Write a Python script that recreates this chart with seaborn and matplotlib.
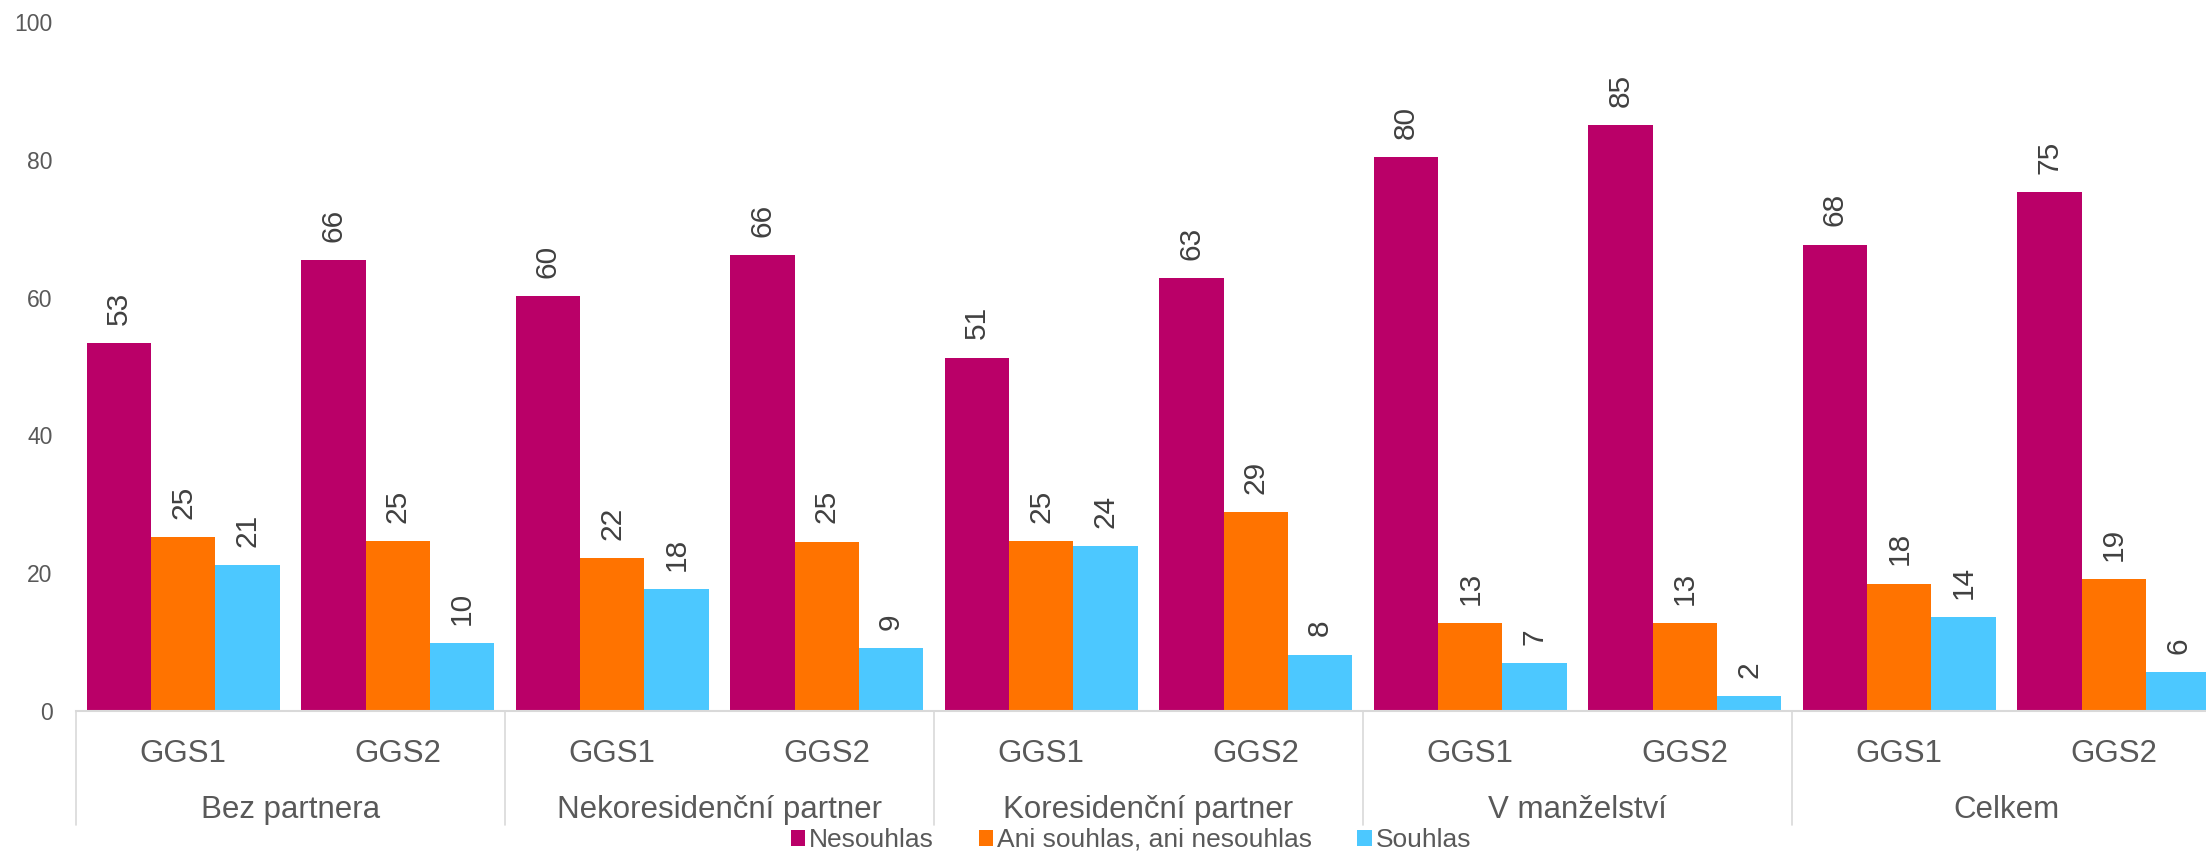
import matplotlib
matplotlib.use("Agg")
import matplotlib.pyplot as plt
from matplotlib.patches import Patch
import seaborn as sns
import pandas as pd
import numpy as np

categories = ["Bez partnera", "Nekoresidenční partner", "Koresidenční partner", "V manželství", "Celkem"]
surveys = ["GGS1", "GGS2"]
series = ["Nesouhlas", "Ani souhlas, ani nesouhlas", "Souhlas"]
nesouhlas = [53.4, 65.5, 60.2, 66.2, 51.3, 62.9, 80.4, 85.1, 67.7, 75.3]
ani = [25.3, 24.7, 22.2, 24.6, 24.7, 28.9, 12.8, 12.7, 18.5, 19.2]
souhlas = [21.2, 9.8, 17.7, 9.2, 23.9, 8.2, 6.9, 2.2, 13.7, 5.6]
colors = ["#BA0068", "#FF7300", "#4CC8FF"]

groups = [f"{c}|{s}" for c in categories for s in surveys]
rows = []
for name, vals in zip(series, [nesouhlas, ani, souhlas]):
    for g, v in zip(groups, vals):
        rows.append({"group": g, "series": name, "value": v})
df = pd.DataFrame(rows)

sns.set_style("white")
plt.rcParams["font.family"] = ["Liberation Sans", "DejaVu Sans"]

fig = plt.figure(figsize=(22.06, 8.52), dpi=100)
ax = fig.add_axes([76 / 2206, 1 - 711 / 852, 2145 / 2206, (711 - 22) / 852])

sns.barplot(data=df, x="group", y="value", hue="series", order=groups,
            hue_order=series, palette=colors, width=0.9, saturation=1,
            linewidth=0, ax=ax, legend=False)

for cont in ax.containers:
    ax.bar_label(cont, fmt="%.0f", rotation=90, padding=13, fontsize=21.5,
                 color="#404040")

ax.set_ylim(0, 100)
ax.set_xlim(-0.5, 9.5)
ax.set_yticks([0, 20, 40, 60, 80, 100])
ax.tick_params(axis="y", length=0, pad=17, labelsize=16.5, labelcolor="#595959")
ax.set_xticks([])
ax.set_xlabel("")
ax.set_ylabel("")
for s in ["top", "right", "left"]:
    ax.spines[s].set_visible(False)
ax.spines["bottom"].set_color("#D9D9D9")
ax.spines["bottom"].set_linewidth(1.5)

trans = matplotlib.transforms.blended_transform_factory(ax.transData, ax.transAxes)
for i, g in enumerate(groups):
    ax.text(i, -0.074, g.split("|")[1], transform=trans, ha="center", va="baseline",
            fontsize=22.5, color="#595959")
for j, c in enumerate(categories):
    ax.text(2 * j + 0.5, -0.1553, c, transform=trans, ha="center", va="baseline",
            fontsize=22.5, color="#595959")
for b in [-0.5, 1.5, 3.5, 5.5, 7.5, 9.5]:
    ax.plot([b, b], [0, -0.165], transform=trans, color="#D9D9D9", lw=1.2,
            clip_on=False)

handles = [Patch(facecolor=c, edgecolor="none") for c in colors]
fig.legend(handles, series, loc="center", bbox_to_anchor=(1131 / 2206, 1 - 840 / 852),
           ncol=3, frameon=False, fontsize=19, handlelength=0.55, handleheight=0.55,
           handletextpad=0.15, columnspacing=1.7, labelcolor="#595959",
           borderpad=0, borderaxespad=0)

fig.savefig("out.png", dpi=100)
